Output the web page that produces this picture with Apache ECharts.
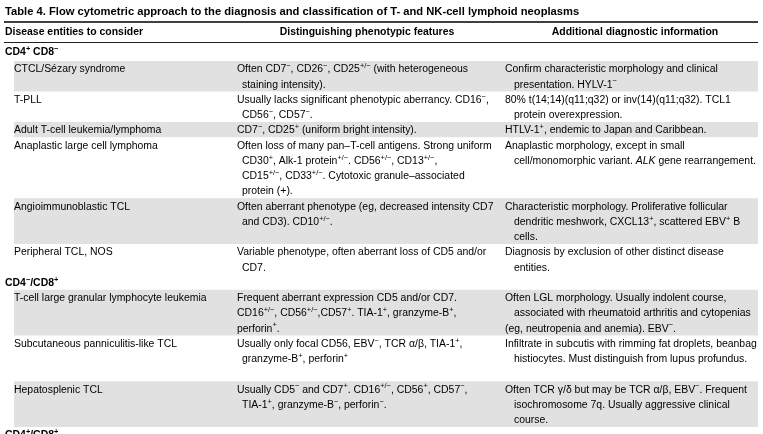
<!DOCTYPE html>
<html><head><meta charset="utf-8">
<script src="https://cdn.jsdelivr.net/npm/echarts@6/dist/echarts.min.js"></script>
<style>html,body{margin:0;padding:0;background:#fff}#c{width:763px;height:434px}</style>
</head><body><div id="c"></div>
<script>
// ---- table content (^{..} = superscript, *{..} = italic, leading "~" = hanging indent) ----
const title = "Table 4. Flow cytometric approach to the diagnosis and classification of T- and NK-cell lymphoid neoplasms";
const headers = ["Disease entities to consider", "Distinguishing phenotypic features", "Additional diagnostic information"];
const groups = ["CD4^{+} CD8^{−}", "CD4^{−}/CD8^{+}", "CD4^{+}/CD8^{+}"];
const groupOfRow = [0, 0, 0, 0, 0, 0, 1, 1, 1];
const rowLines = [2, 2, 1, 4, 3, 2, 3, 3, 3];
const entities = [
  "CTCL/Sézary syndrome",
  "T-PLL",
  "Adult T-cell leukemia/lymphoma",
  "Anaplastic large cell lymphoma",
  "Angioimmunoblastic TCL",
  "Peripheral TCL, NOS",
  "T-cell large granular lymphocyte leukemia",
  "Subcutaneous panniculitis-like TCL",
  "Hepatosplenic TCL"
];
const phenotypes = [
  ["Often CD7^{−}, CD26^{−}, CD25^{+/−} (with heterogeneous", "~staining intensity)."],
  ["Usually lacks significant phenotypic aberrancy. CD16^{−},", "~CD56^{−}, CD57^{−}."],
  ["CD7^{−}, CD25^{+} (uniform bright intensity)."],
  ["Often loss of many pan–T-cell antigens. Strong uniform", "~CD30^{+}, Alk-1 protein^{+/−}. CD56^{+/−}, CD13^{+/−},", "~CD15^{+/−}, CD33^{+/−}. Cytotoxic granule–associated", "~protein (+)."],
  ["Often aberrant phenotype (eg, decreased intensity CD7", "~and CD3). CD10^{+/−}."],
  ["Variable phenotype, often aberrant loss of CD5 and/or", "~CD7."],
  ["Frequent aberrant expression CD5 and/or CD7.", "CD16^{+/−}, CD56^{+/−},CD57^{+}. TIA-1^{+}, granzyme-B^{+},", "perforin^{+}."],
  ["Usually only focal CD56, EBV^{−}, TCR α/β, TIA-1^{+},", "~granzyme-B^{+}, perforin^{+}"],
  ["Usually CD5^{−} and CD7^{+}. CD16^{+/−}, CD56^{+}, CD57^{−},", "~TIA-1^{+}, granzyme-B^{−}, perforin^{−}."]
];
const additional = [
  ["Confirm characteristic morphology and clinical", "~presentation. HYLV-1^{−}"],
  ["80% t(14;14)(q11;q32) or inv(14)(q11;q32). TCL1", "~protein overexpression."],
  ["HTLV-1^{+}, endemic to Japan and Caribbean."],
  ["Anaplastic morphology, except in small", "~cell/monomorphic variant. *{ALK} gene rearrangement."],
  ["Characteristic morphology. Proliferative follicular", "~dendritic meshwork, CXCL13^{+}, scattered EBV^{+} B", "~cells."],
  ["Diagnosis by exclusion of other distinct disease", "~entities."],
  ["Often LGL morphology. Usually indolent course,", "~associated with rheumatoid arthritis and cytopenias", "(eg, neutropenia and anemia). EBV^{−}."],
  ["Infiltrate in subcutis with rimming fat droplets, beanbag", "~histiocytes. Must distinguish from lupus profundus."],
  ["Often TCR γ/δ but may be TCR α/β, EBV^{−}. Frequent", "~isochromosome 7q. Usually aggressive clinical", "~course."]
];

// ---- rendering ----
const FONT = '"Liberation Sans", Arial, Helvetica, sans-serif';
const FS = 10.45, SS = 7.4;
const rich = {
  n: { fontSize: FS, lineHeight: 14, fontFamily: FONT, color: '#000' },
  s: { fontSize: SS, lineHeight: 8.5, verticalAlign: 'top', fontFamily: FONT, color: '#000' },
  i: { fontSize: FS, lineHeight: 14, fontStyle: 'italic', fontFamily: FONT, color: '#000' },
  nb: { fontSize: FS, lineHeight: 14, fontWeight: 'bold', fontFamily: FONT, color: '#000' },
  sb: { fontSize: SS, lineHeight: 8.5, verticalAlign: 'top', fontWeight: 'bold', fontFamily: FONT, color: '#000' }
};
function toRich(str, bold) {
  const N = bold ? 'nb' : 'n', S = bold ? 'sb' : 's';
  let out = '', last = 0, m;
  const re = /\^\{([^}]*)\}|\*\{([^}]*)\}/g;
  while ((m = re.exec(str))) {
    if (m.index > last) out += '{' + N + '|' + str.slice(last, m.index) + '}';
    out += m[1] !== undefined ? '{' + S + '|' + m[1] + '}' : '{i|' + m[2] + '}';
    last = re.lastIndex;
  }
  if (last < str.length) out += '{' + N + '|' + str.slice(last) + '}';
  return out;
}
function textEl(str, x, y, bold, indentW, align) {
  let indent = 0;
  if (str.charAt(0) === '~') { indent = indentW || 0; str = str.slice(1); }
  const a = align || 'left';
  return { type: 'text', x: x + indent, y: y, silent: true,
    style: { text: toRich(str, bold), rich: rich, textVerticalAlign: 'middle', verticalAlign: 'middle', textAlign: a, align: a } };
}

const LH = 15.25;
const COLX = [14, 237, 505];
const INDENT = [0, 5, 9];
const els = [];
const bands = [];
const texts = [];
texts.push({ type: 'text', x: 5, y: 12, silent: true,
  style: { text: title, font: 'bold 11.2px ' + FONT, fill: '#000', textVerticalAlign: 'middle', verticalAlign: 'middle' } });
texts.push(textEl(headers[0], 5, 32, true));
texts.push(textEl(headers[1], 367, 32, true, 0, 'center'));
texts.push(textEl(headers[2], 635, 32, true, 0, 'center'));
els.push({ type: 'line', silent: true, shape: { x1: 4, y1: 22, x2: 758, y2: 22 }, style: { stroke: '#000', lineWidth: 1.6 } });
els.push({ type: 'line', silent: true, shape: { x1: 4, y1: 42.5, x2: 758, y2: 42.5 }, style: { stroke: '#222', lineWidth: 1 } });

let y = 69.5; // centre of first content line
let curGroup = 0, idxInGroup = 0;
texts.push(textEl(groups[0], 5, 52, true));
entities.forEach((name, r) => {
  if (groupOfRow[r] !== curGroup) {
    curGroup = groupOfRow[r];
    texts.push(textEl(groups[curGroup], 5, y, true));
    y += LH; idxInGroup = 0;
  }
  const n = rowLines[r];
  if (idxInGroup % 2 === 0) {
    bands.push({ type: 'rect', silent: true,
      shape: { x: 14, y: y - 8.6, width: 744, height: n * LH },
      style: { fill: '#e1e1e1' } });
  }
  texts.push(textEl(name, COLX[0], y, false, INDENT[0]));
  phenotypes[r].forEach((ln, k) => texts.push(textEl(ln, COLX[1], y + k * LH, false, INDENT[1])));
  additional[r].forEach((ln, k) => texts.push(textEl(ln, COLX[2], y + k * LH, false, INDENT[2])));
  y += n * LH; idxInGroup++;
});
// next group heading (cut off by the frame)
texts.push(textEl(groups[2], 5, y, true));

const chart = echarts.init(document.getElementById('c'), null, { renderer: 'canvas' });
chart.setOption({
  backgroundColor: '#fff',
  animation: false,
  graphic: { elements: bands.concat(els, texts) }
});
</script>
</body></html>
